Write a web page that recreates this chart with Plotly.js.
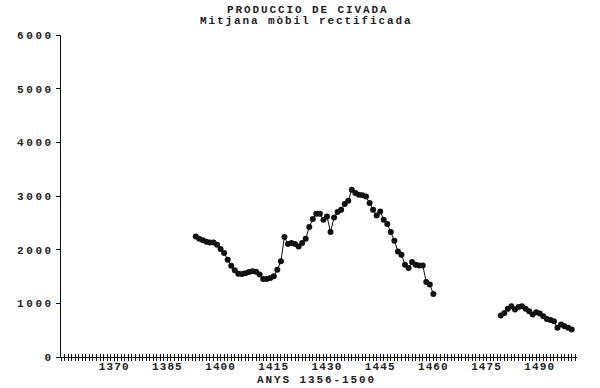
<!DOCTYPE html>
<html>
<head>
<meta charset="utf-8">
<script src="https://cdn.plot.ly/plotly-3.0.1.min.js"></script>
<style>
  html, body { margin: 0; padding: 0; background: #fff; }
  #chart { width: 600px; height: 388px; }
  .xtick text { letter-spacing: 1.1px; }
  .ytick text { letter-spacing: 2.6px; }
  .annotation-text { letter-spacing: 1.9px; }
</style>
</head>
<body>
<div id="chart"></div>
<script>
// Years of the moving average (first run 1393-1460, second run 1479-1499)
const years1 = [1393,1394,1395,1396,1397,1398,1399,1400,1401,1402,1403,1404,1405,1406,1407,1408,1409,1410,
  1411,1412,1413,1414,1415,1416,1417,1418,1419,1420,1421,1422,1423,1424,1425,1426,1427,1428,1429,1430,
  1431,1432,1433,1434,1435,1436,1437,1438,1439,1440,1441,1442,1443,1444,1445,1446,1447,1448,1449,1450,
  1451,1452,1453,1454,1455,1456,1457,1458,1459,1460];
const values1 = [2247,2204,2176,2148,2135,2135,2093,2013,1940,1814,1702,1618,1553,1548,1562,1585,1596,1590,
  1535,1455,1455,1473,1503,1628,1782,2236,2106,2124,2106,2061,2124,2204,2422,2571,2669,2669,2558,2619,
  2329,2600,2701,2744,2850,2911,3116,3054,3023,3013,2991,2868,2744,2637,2712,2558,2478,2329,2167,1968,
  1907,1721,1659,1771,1721,1707,1707,1399,1349,1176];
const years2 = [1479,1480,1481,1482,1483,1484,1485,1486,1487,1488,1489,1490,1491,1492,1493,1494,1495,1496,1497,1498,1499];
const values2 = [772,822,897,945,884,930,945,897,852,791,833,809,759,710,688,666,543,605,573,543,512];

const xTickVals = [1370,1385,1400,1415,1430,1445,1460,1475,1490];
const yTickVals = [0,1000,2000,3000,4000,5000,6000];

const titleMain = 'PRODUCCIO DE CIVADA';
const titleSub = 'Mitjana mòbil rectificada';
const xTitle = 'ANYS 1356-1500';

// join the two runs with a gap
const xs = years1.concat([null]).concat(years2);
const ys = values1.concat([null]).concat(values2);

const fontFam = '"Liberation Mono", "DejaVu Sans Mono", monospace';
const ink = '#111';

const traces = [
  {
    x: xs, y: ys, type: 'scatter', mode: 'lines+markers',
    connectgaps: false,
    line: { color: ink, width: 1 },
    marker: { color: ink, size: 6, symbol: 'circle' },
    hoverinfo: 'skip', showlegend: false
  },
  { x: [], y: [], xaxis: 'x2', type: 'scatter', showlegend: false }
];

const layout = {
  width: 600, height: 388,
  margin: { l: 61, r: 23, t: 35, b: 31 },
  paper_bgcolor: '#fff', plot_bgcolor: '#fff',
  showlegend: false,
  xaxis: {
    range: [1355, 1500.5],
    showline: true, linecolor: ink, linewidth: 1,
    showgrid: false, zeroline: false,
    tickmode: 'array', tickvals: xTickVals,
    ticks: 'outside', ticklen: 3, tickcolor: ink, tickwidth: 1,
    ticklabelstandoff: -4,
    minor: { tick0: 1355, dtick: 1, ticks: 'outside', ticklen: 3, tickcolor: ink, tickwidth: 1, showgrid: false },
    tickfont: { family: fontFam, size: 11, color: '#222', weight: 'bold' },
    fixedrange: true
  },
  xaxis2: {
    overlaying: 'x', anchor: 'y', side: 'bottom',
    range: [1355, 1500.5],
    showline: false, showgrid: false, zeroline: false,
    tick0: 1355, dtick: 1, ticks: 'inside', ticklen: 3, tickcolor: ink, tickwidth: 1,
    showticklabels: false, fixedrange: true
  },
  yaxis: {
    range: [0, 6000],
    showline: true, linecolor: ink, linewidth: 1,
    showgrid: false, zeroline: false,
    tickmode: 'array', tickvals: yTickVals,
    ticks: 'outside', ticklen: 4, tickcolor: ink, tickwidth: 1,
    tickfont: { family: fontFam, size: 11, color: '#222', weight: 'bold' },
    fixedrange: true
  },
  annotations: [
    { text: titleMain, xref: 'paper', yref: 'paper', x: 0.479, y: 1, yshift: 25,
      xanchor: 'center', yanchor: 'middle', showarrow: false,
      font: { family: fontFam, size: 11, color: '#222', weight: 'bold' } },
    { text: titleSub, xref: 'paper', yref: 'paper', x: 0.475, y: 1, yshift: 14,
      xanchor: 'center', yanchor: 'middle', showarrow: false,
      font: { family: fontFam, size: 11, color: '#222', weight: 'bold' } },
    { text: xTitle, xref: 'paper', yref: 'paper', x: 0.495, y: 0, yshift: -23,
      xanchor: 'center', yanchor: 'middle', showarrow: false,
      font: { family: fontFam, size: 11, color: '#222', weight: 'bold' } }
  ]
};

Plotly.newPlot('chart', traces, layout, { staticPlot: true, displayModeBar: false });
</script>
</body>
</html>
